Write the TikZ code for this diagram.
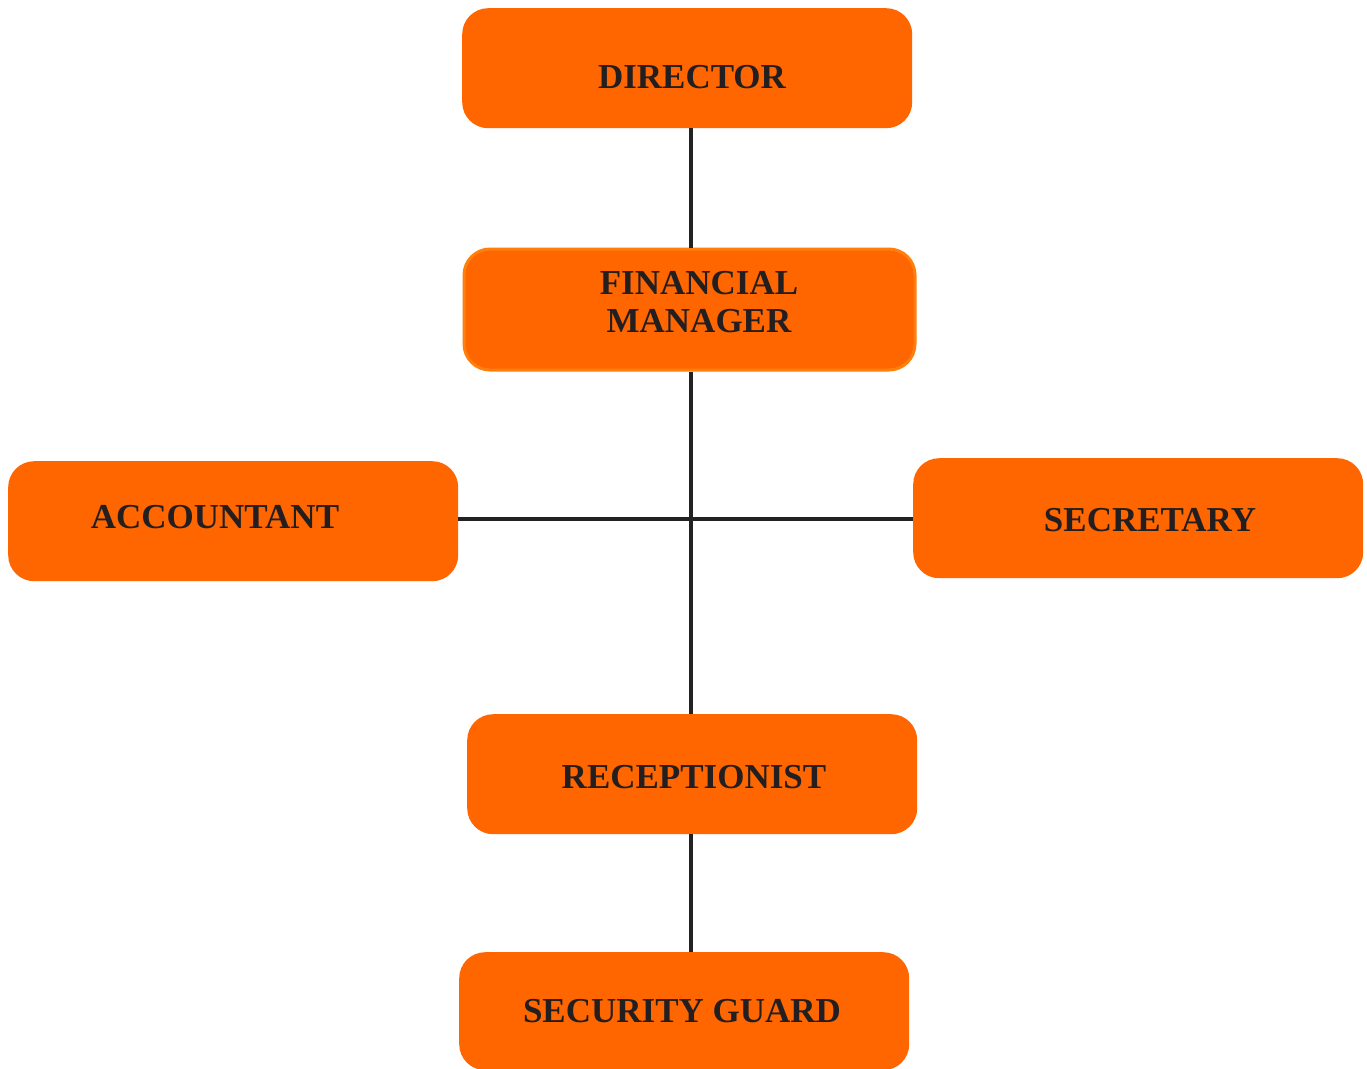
\documentclass[tikz,border=0pt]{standalone}
\usepackage{fontspec}
\setmainfont{Liberation Serif}
\definecolor{boxorange}{HTML}{FF6600}
\definecolor{edgeorange}{HTML}{FF7F0E}
\definecolor{txtdark}{HTML}{231F20}
\definecolor{linedark}{HTML}{222222}
\begin{document}
\begin{tikzpicture}[x=1pt,y=-1pt,
  box/.style={rectangle, rounded corners=26pt, fill=boxorange, draw=none,
    minimum width=450pt, minimum height=120pt, inner sep=0pt, anchor=north west},
  lbl/.style={font=\fontsize{35}{38}\selectfont\bfseries, text=txtdark, align=center, inner sep=0pt},
  conn/.style={draw=linedark, line width=3.4pt}]
\useasboundingbox (0,0) rectangle (1367,1068);
\fill[white] (0,0) rectangle (1367,1068);
% boxes
\node[box] (dir) at (462,8) {};
\node[box, draw=edgeorange, line width=3pt, minimum width=451pt, minimum height=121pt] (fm) at (462.5,247.5) {};
\node[box] (acc) at (8,461) {};
\node[box] (sec) at (913,458) {};
\node[box] (rec) at (467,714) {};
\node[box, minimum height=118pt] (sg) at (459,952) {};
% labels
\node[lbl] (tdir) at (692,77) {DIRECTOR};
\node[lbl] (tfm) at (699,302) {FINANCIAL\\MANAGER};
\node[lbl] (tacc) at (215,517) {ACCOUNTANT};
\node[lbl] (tsec) at (1150,520) {SECRETARY};
\node[lbl] (trec) at (694,777) {RECEPTIONIST};
\node[lbl] (tsg) at (682,1011) {SECURITY GUARD};
% connectors
\coordinate (hub) at (691,519);
\draw[conn] (dir.south -| hub) -- (fm.north -| hub);
\draw[conn] (fm.south -| hub) -- (rec.north -| hub);
\draw[conn] (rec.south -| hub) -- (sg.north -| hub);
\draw[conn] (acc.east |- hub) -- (sec.west |- hub);
\end{tikzpicture}
\end{document}
